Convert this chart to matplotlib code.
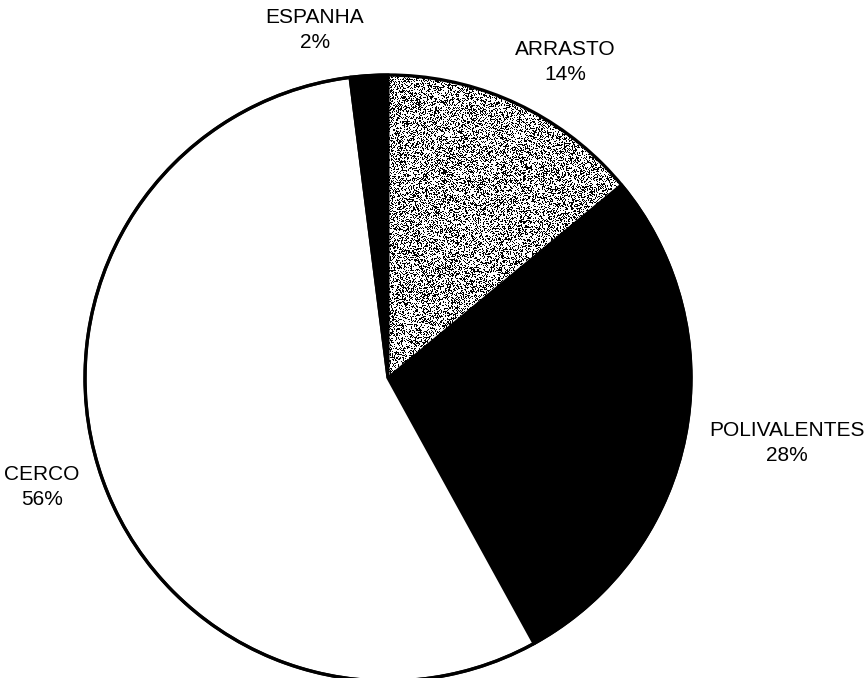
import numpy as np
import matplotlib
matplotlib.use("Agg")
import matplotlib.pyplot as plt

categories = ["ARRASTO", "POLIVALENTES", "CERCO", "ESPANHA"]
values = [14, 28, 56, 2]
colors = ["#a8a8a8", "#000000", "#ffffff", "#000000"]

plt.rcParams['font.family'] = ['Liberation Sans', 'DejaVu Sans']

W, H = 868, 678
fig = plt.figure(figsize=(W / 100, H / 100), dpi=100)
ax = fig.add_axes([0, 0, 1, 1])
ax.set_xlim(0, W)
ax.set_ylim(0, H)
ax.set_aspect('equal')
ax.axis('off')

cx, cy, r = 388, H - 378, 303
wedges, _ = ax.pie(values, colors=colors, startangle=90, counterclock=False,
                   center=(cx, cy), radius=r,
                   wedgeprops=dict(edgecolor='black', linewidth=2.2))
ax.set_xlim(0, W)
ax.set_ylim(0, H)

# stippled texture for the ARRASTO wedge (deterministic hash pattern)
ii, jj = np.mgrid[0:H, 0:W]
hashv = np.sin(ii * 12.9898 + jj * 78.233) * 43758.5453
hashv = hashv - np.floor(hashv)
tex = (hashv > 0.36).astype(float)
wedges[0].set_facecolor('none')
wedges[0].set_edgecolor('none')
im = ax.imshow(tex, cmap='gray', vmin=0, vmax=1, extent=(0, W, 0, H),
               origin='lower', interpolation='nearest', zorder=0.5)
im.set_clip_path(wedges[0])
# outer outline of the whole pie
ax.add_patch(plt.Circle((cx, cy), r, fill=False, edgecolor='black',
                        linewidth=2.4, zorder=3))

label_pos = [(565, 62), (787, 443), (42, 487), (315, 30)]
for name, v, (x, y) in zip(categories, values, label_pos):
    ax.text(x, H - y, f"{name}\n{v}%", ha='center', va='center',
            fontsize=15, linespacing=1.35, color='black')

fig.savefig("out.png", dpi=100)
